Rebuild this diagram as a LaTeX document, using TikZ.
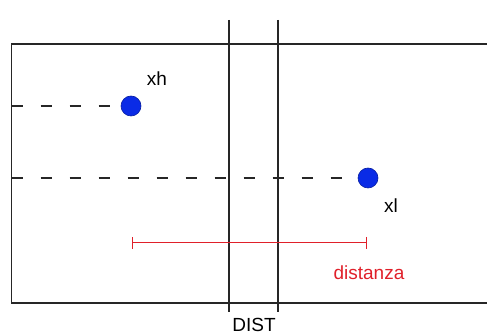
\documentclass[tikz,border=0pt]{standalone}
\usepackage{fontspec}
\setmainfont{Liberation Sans}
\usetikzlibrary{arrows.meta}
\definecolor{pointblue}{HTML}{0A2BE6}
\definecolor{distred}{HTML}{E0202A}

\begin{document}
\begin{tikzpicture}[
  x=1pt, y=-1pt,
  font=\fontsize{19}{22}\selectfont,
  frameline/.style={line width=1.6pt, draw=black!85},
  datapoint/.style={circle, fill=pointblue, draw=pointblue!70!black, line width=0.6pt,
    minimum size=20pt, inner sep=0pt},
  guide/.style={line width=1.6pt, draw=black!85, dash pattern=on 11pt off 18pt},
  span/.style={{Bar[width=12pt]}-{Bar[width=12pt]}, line width=1pt, draw=distred}
]
\useasboundingbox (0,0) rectangle (487,336);

% frame and the two cut lines
\draw[frameline] (487,44) -- (11.5,44) -- (11.5,303) -- (487,303);
\draw[frameline] (229,20) -- (229,312);
\draw[frameline] (278,20) -- (278,312);

% the two points
\node[datapoint] (xh) at (131,106) {};
\node[datapoint] (xl) at (368,178) {};
\node (xhlabel) at (157,79) {xh};
\node (xllabel) at (391,206) {xl};

\coordinate (hstart) at (11.5,106);
\coordinate (lstart) at (11.5,178);
\draw[guide] (hstart) -- (xh.west);
\draw[guide] (lstart) -- (xl.west);

% distance
\coordinate (da) at (132,243);
\coordinate (db) at (367,243);
\draw[span] (da) -- (db);
\node[text=distred] (distlabel) at (369,273) {distanza};
\node (cutlabel) at (254,325) {DIST};
\end{tikzpicture}
\end{document}
